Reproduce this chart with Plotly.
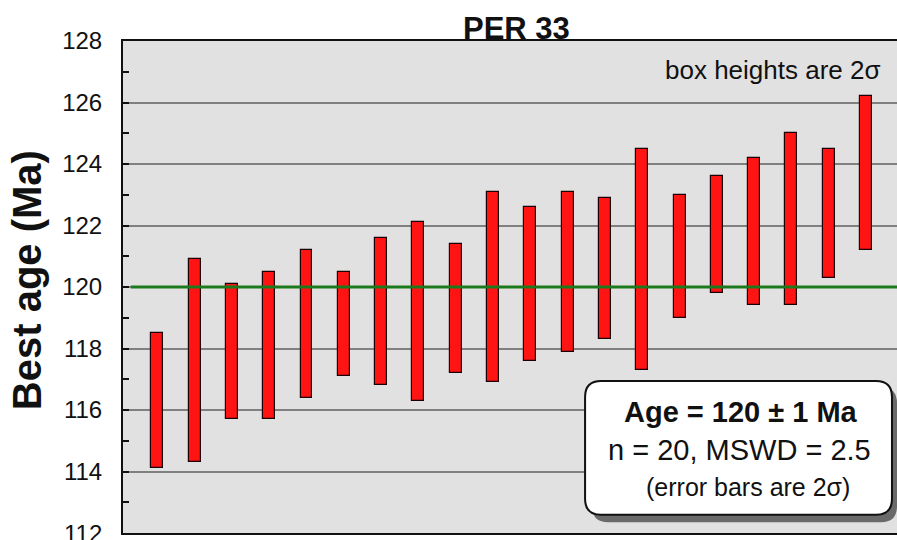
import plotly.graph_objects as go

# grain ages, 2 sigma boxes (Ma)
grain = list(range(1, 21))
age_top = [118.5, 120.9, 120.1, 120.5, 121.2, 120.5, 121.6, 122.1, 121.4, 123.1,
           122.6, 123.1, 122.9, 124.5, 123.0, 123.6, 124.2, 125.0, 124.5, 126.2]
age_bottom = [114.1, 114.3, 115.7, 115.7, 116.4, 117.1, 116.8, 116.3, 117.2, 116.9,
              117.6, 117.9, 118.3, 117.3, 119.0, 119.8, 119.4, 119.4, 120.3, 121.2]
mean_age = 120
y_ticks = [112, 114, 116, 118, 120, 122, 124, 126, 128]

FONT = "Arial, Liberation Sans, sans-serif"

fig = go.Figure()
fig.add_trace(go.Bar(
    x=grain,
    y=[t - b for t, b in zip(age_top, age_bottom)],
    base=age_bottom,
    width=0.32,
    marker=dict(color="#ff1414", line=dict(color="#1a0000", width=1.2)),
    showlegend=False,
))

# weighted mean line
fig.add_shape(type="line", xref="x", yref="y", x0=0.29, x1=20.83, y0=mean_age, y1=mean_age,
              line=dict(color="#1c7a1c", width=3), layer="above")

# result box with shadow (rounded corners)
def rounded(x0, y0, x1, y1, rx, ry):
    return (f"M {x0+rx},{y1} L {x1-rx},{y1} Q {x1},{y1} {x1},{y1-ry} "
            f"L {x1},{y0+ry} Q {x1},{y0} {x1-rx},{y0} L {x0+rx},{y0} "
            f"Q {x0},{y0} {x0},{y0+ry} L {x0},{y1-ry} Q {x0},{y1} {x0+rx},{y1} Z")

rx, ry = 16 / 774, 16 / 492
fig.add_shape(type="path", xref="paper", yref="paper",
              path=rounded(0.606, 0.022, 1.0, 0.296, rx, ry),
              fillcolor="#6a6a6a", line=dict(width=0), layer="above")
fig.add_shape(type="path", xref="paper", yref="paper",
              path=rounded(0.597, 0.037, 0.9935, 0.309, rx, ry),
              fillcolor="white", line=dict(color="#111111", width=2), layer="above")

def note(text, x, y, size, xanchor="center", yanchor="middle", xref="paper", yref="paper", **kw):
    fig.add_annotation(x=x, y=y, xref=xref, yref=yref, showarrow=False,
                       xanchor=xanchor, yanchor=yanchor, text=text,
                       font=dict(family=FONT, size=size, color="#111"), **kw)

note("<b>Age = 120 ± 1 Ma</b>", 0.798, 0.246, 29)
note("n = 20, MSWD = 2.5", 0.797, 0.168, 29)
note("(error bars are 2σ)", 0.808, 0.093, 25)
note("box heights are 2σ", 0.982, 0.941, 26, xanchor="right")

# title
note("<b>PER 33</b>", 0.508, 1, 31, yanchor="bottom", yshift=-7)

# y axis title
note("<b>Best age (Ma)</b>", -0.124, 0.514, 40, textangle=-90)

# bottom tick label, cut by the edge of the figure
note(str(y_ticks[0]), 0, y_ticks[0], 24, xanchor="right", yref="y", xshift=-19)

fig.update_layout(
    width=897, height=540,
    margin=dict(l=123, r=0, t=41, b=7),
    paper_bgcolor="white",
    plot_bgcolor="#e1e1e1",
    bargap=0,
    font=dict(family=FONT, color="#111"),
)
fig.update_xaxes(range=[0.08, 20.83], showticklabels=False, ticks="", showgrid=False,
                 zeroline=False, showline=True, linecolor="#111", linewidth=2, mirror=True)
fig.update_yaxes(range=[112, 128], tickvals=y_ticks, ticks="inside", ticklen=6, tickwidth=1.5,
                 tickcolor="#111", tickfont=dict(family=FONT, size=24, color="#111"),
                 showgrid=True, gridcolor="#808080", gridwidth=1.5, zeroline=False,
                 showline=True, linecolor="#111", linewidth=2, mirror=False,
                 minor=dict(dtick=1, ticks="inside", ticklen=6, tickcolor="#111", showgrid=False),
                 ticklabelstandoff=14)

fig.write_html("out.html", config={"displayModeBar": False},
               post_script="document.body.style.margin='0';")
